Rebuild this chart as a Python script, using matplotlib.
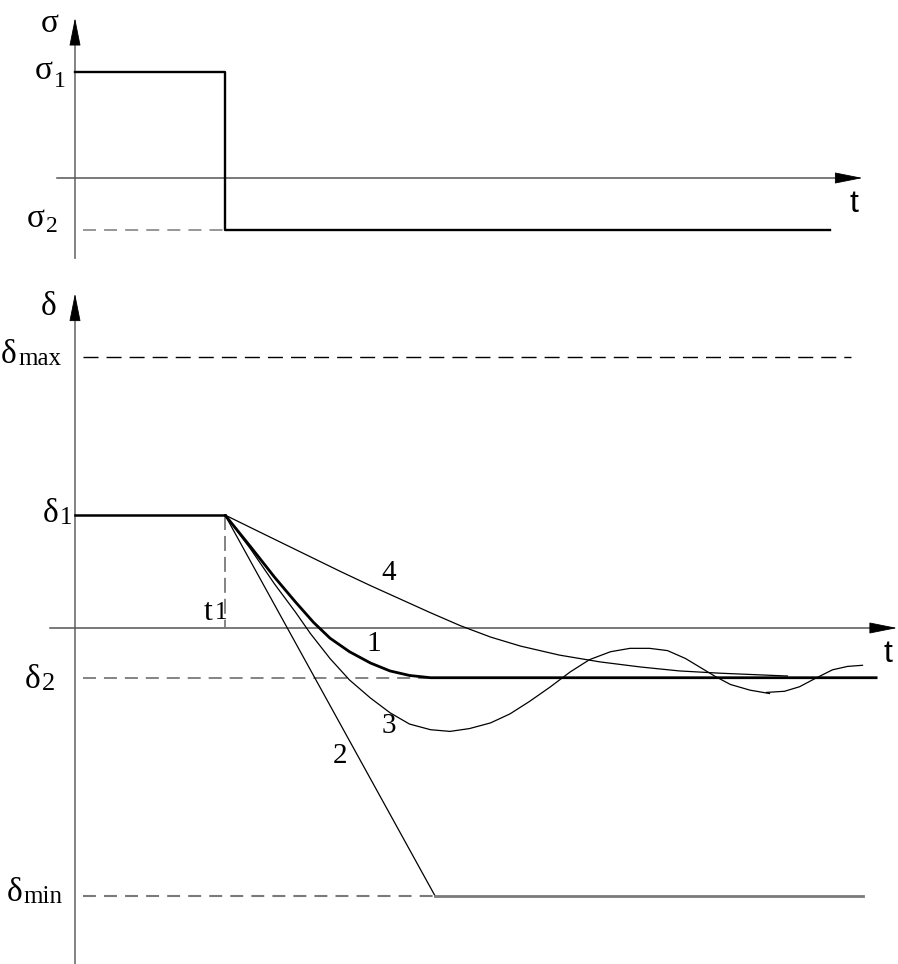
import matplotlib
matplotlib.use("Agg")
import matplotlib.pyplot as plt

# ---- data (t in units of t1, stress / strain in arbitrary units) ----
t1 = 1.0
sigma1 = 1.0
sigma2 = -0.49
t_sigma_end = 5.03

delta1 = 1.0
delta2 = -0.44
delta_max = 2.4
delta_min = -2.37

# curve 1: smooth approach to delta2
t_c1 = [1.0, 1.17, 1.33, 1.47, 1.59, 1.7, 1.83, 1.97, 2.1, 2.23, 2.37, 5.35]
d_c1 = [1.0, 0.72, 0.45, 0.23, 0.05, -0.09, -0.21, -0.31, -0.38, -0.42, -0.44, -0.44]

# curve 2: straight drop to delta_min
t_c2 = [1.0, 2.4]
d_c2 = [1.0, -2.37]
t_c2_flat = [2.4, 5.25]
d_c2_flat = [-2.37, -2.37]

# curve 3: damped oscillation (drawn in two strokes)
t_c3a = [1.0, 1.17, 1.33, 1.47, 1.57, 1.7, 1.83, 1.97, 2.1, 2.23, 2.37, 2.5,
         2.63, 2.77, 2.9, 3.03, 3.17, 3.3, 3.43, 3.57, 3.7, 3.83, 3.95, 4.07,
         4.17, 4.27, 4.37, 4.5, 4.63]
d_c3a = [1.0, 0.70, 0.39, 0.14, -0.05, -0.27, -0.46, -0.62, -0.75, -0.85, -0.90,
         -0.915, -0.89, -0.84, -0.76, -0.65, -0.52, -0.39, -0.28, -0.21, -0.18,
         -0.18, -0.2, -0.27, -0.35, -0.43, -0.5, -0.55, -0.58]
t_c3b = [4.61, 4.73, 4.83, 4.93, 5.05, 5.15, 5.25]
d_c3b = [-0.57, -0.56, -0.52, -0.45, -0.37, -0.34, -0.33]

# curve 4: slow approach
t_c4 = [1.0, 1.23, 1.5, 1.77, 1.97, 2.17, 2.37, 2.57, 2.77, 2.97, 3.23, 3.5,
        3.77, 4.03, 4.3, 4.57, 4.75]
d_c4 = [1.0, 0.85, 0.675, 0.5, 0.375, 0.255, 0.135, 0.02, -0.08, -0.16, -0.24,
        -0.30, -0.345, -0.38, -0.40, -0.415, -0.425]

curve_labels = ["1", "2", "3", "4"]
curve_label_pos = [(1.99, -0.14), (1.77, -1.13), (2.09, -0.87), (2.09, 0.487)]

SERIF = "Liberation Serif"
SANS = "Liberation Sans"
GRAY = "#7a7a7a"
DGRAY = "#555555"

fig = plt.figure(figsize=(8.98, 9.64), dpi=100)
ax_top = fig.add_axes([0, 1 - 270 / 964, 1, 270 / 964])
ax_bot = fig.add_axes([0, 0, 1, 694 / 964])
ax_top.set_xlim(-0.5, 823 / 150)
ax_top.set_ylim(-92 / 106, 178 / 106)
ax_bot.set_xlim(-0.5, 823 / 150)
ax_bot.set_ylim(-336 / 113, 358 / 113)
for ax in (ax_top, ax_bot):
    ax.axis("off")


def arrow_head(ax, tip, back):
    ax.annotate("", xy=tip, xytext=back,
                arrowprops=dict(arrowstyle="-|>,head_length=1.8,head_width=0.36",
                                mutation_scale=10, color="black", lw=0.6,
                                shrinkA=0, shrinkB=0))


def label(ax, x, y, main, sub=None, size=24, subsize=17, drop=0, family=SERIF,
          ha="right"):
    t = ax.text(x, y, main, fontsize=size, family=family, ha=ha, va="baseline")
    if sub:
        ax.annotate(sub, xy=(1.0, 0.0), xycoords=t, xytext=(1, -drop),
                    textcoords="offset points", fontsize=subsize, family=family,
                    ha="left", va="bottom")
    return t


# ---------------- top panel: sigma(t) ----------------
ax = ax_top
ax.plot([0, 0], [-0.75, 1.3], color=GRAY, lw=1.3)
arrow_head(ax, (0, 1.51), (0, 1.3))
ax.plot([-0.12, 5.1], [0, 0], color=DGRAY, lw=1.1)
arrow_head(ax, (5.25, 0), (5.1, 0))
ax.plot([0, t1, t1, t_sigma_end], [sigma1, sigma1, sigma2, sigma2],
        color="black", lw=1.7)
ax.plot([0.05, t1], [sigma2, sigma2], color=GRAY, lw=1.1, dashes=(8.5, 5.3))

label(ax, -0.17, 1.377, "σ", ha="center")
label(ax, -0.147, 0.934, "σ", "1", drop=4)
label(ax, -0.2, -0.462, "σ", "2", drop=2)
label(ax, 5.19, -0.32, "t", size=23, family=SANS, ha="center")

# ---------------- bottom panel: delta(t) ----------------
ax = ax_bot
ax.plot([0, 0], [-2.97, 2.75], color=GRAY, lw=1.3)
arrow_head(ax, (0, 2.96), (0, 2.75))
ax.plot([-0.167, 5.3], [0, 0], color=DGRAY, lw=1.1)
arrow_head(ax, (5.48, 0), (5.3, 0))

ax.plot([0.05, 5.17], [delta_max, delta_max], color="black", lw=1.0,
        dashes=(10.8, 5.8))
ax.plot([0.05, 2.37], [delta2, delta2], color=GRAY, lw=1.3, dashes=(7.2, 4.4))
ax.plot([0.05, 2.4], [delta_min, delta_min], color=GRAY, lw=1.5, dashes=(6.2, 3.9))
ax.plot([t1, t1], [delta1, 0], color=GRAY, lw=1.3, dashes=(8.3, 3.3))

ax.plot([0, t1], [delta1, delta1], color="black", lw=1.8)
ax.plot(t_c4, d_c4, color="black", lw=0.9)
ax.plot(t_c2, d_c2, color="black", lw=0.9)
ax.plot(t_c2_flat, d_c2_flat, color=GRAY, lw=2.0)
ax.plot(t_c3a, d_c3a, color="black", lw=0.9)
ax.plot(t_c3b, d_c3b, color="black", lw=0.9)
ax.plot(t_c1, d_c1, color="black", lw=2.0, solid_capstyle="butt")

for txt, (x, y) in zip(curve_labels, curve_label_pos):
    ax.text(x, y, txt, fontsize=21, family=SERIF, ha="center", va="center")

label(ax, -0.177, 2.77, "δ", ha="center")
label(ax, -0.387, 2.345, "δ", "max", subsize=18)
label(ax, -0.113, 0.938, "δ", "1", subsize=18)
label(ax, -0.23, -0.53, "δ", "2", subsize=19)
label(ax, -0.353, -2.416, "δ", "min", subsize=18)
label(ax, 0.92, 0.07, "t", "1", size=23, subsize=18, drop=-2)
label(ax, 5.42, -0.30, "t", size=23, family=SANS, ha="center")

fig.savefig("out.png", dpi=100)
